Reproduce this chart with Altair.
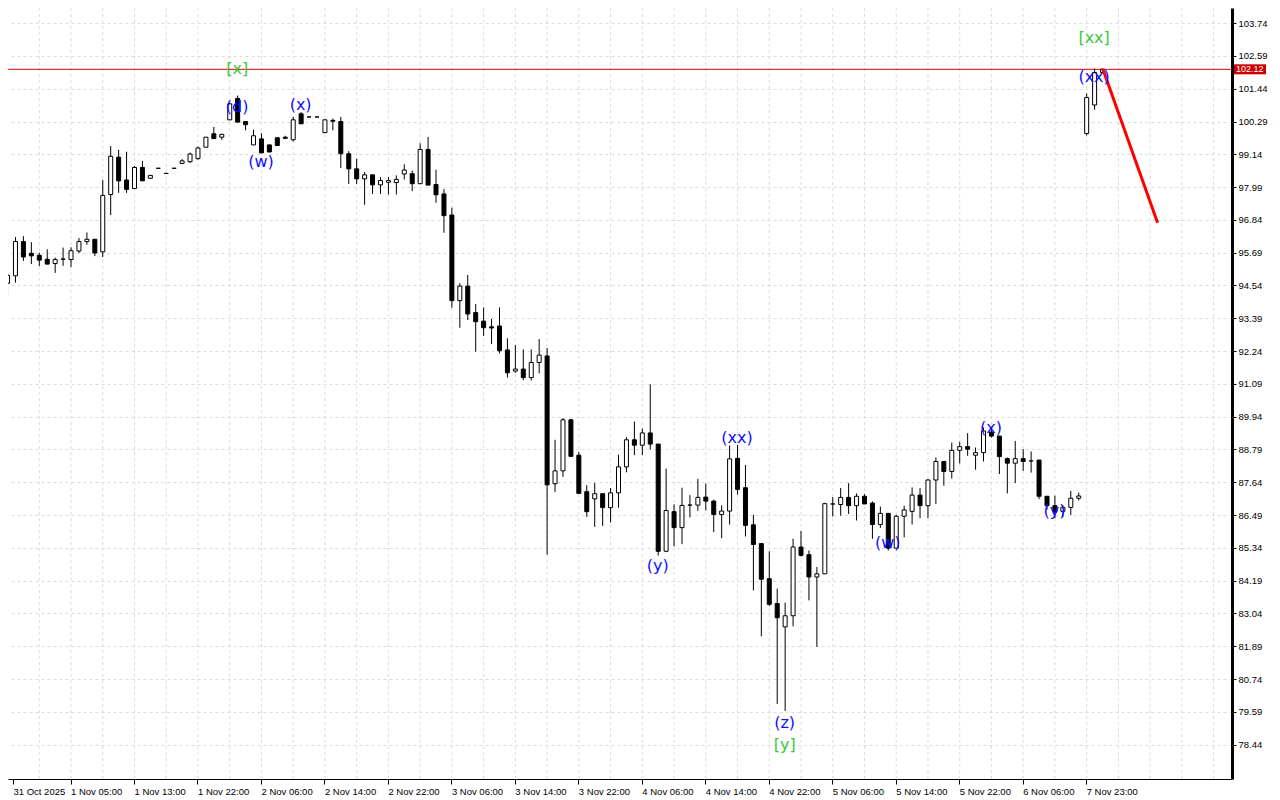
import altair as alt
import pandas as pd

# ---------------- data ----------------
opens = [94.62, 94.88, 96.08, 95.67, 95.60, 95.46, 95.31, 95.46, 95.45, 95.75,
         96.08, 96.16, 95.72, 97.73, 99.04, 98.24, 97.94, 98.68, 98.30, 98.65,
         98.47, 98.65, 98.82, 98.88, 98.99, 99.39, 99.86, 99.74, 100.35, 101.10,
         100.29, 99.47, 99.68, 99.47, 99.72, 99.74, 99.65, 100.56, 100.45, 100.45,
         99.90, 100.33, 100.29, 99.16, 98.63, 98.28, 98.42, 98.07, 98.16, 98.15,
         98.45, 98.46, 98.11, 99.31, 98.08, 97.75, 97.01, 94.01, 94.52, 93.59,
         93.29, 93.09, 93.12, 92.28, 91.54, 91.61, 91.31, 91.84, 92.07, 87.59,
         88.04, 89.83, 88.59, 87.31, 87.06, 87.24, 86.75, 87.27, 88.18, 89.13,
         88.94, 89.37, 88.98, 85.22, 86.61, 86.05, 86.84, 86.84, 87.12, 86.98,
         86.51, 86.63, 88.48, 87.45, 86.15, 85.49, 84.26, 83.39, 82.57, 82.96,
         85.37, 85.10, 84.32, 84.43, 86.88, 86.86, 87.11, 86.82, 87.15, 86.91,
         86.16, 86.55, 85.33, 86.45, 86.62, 87.19, 86.82, 87.72, 88.37, 88.02,
         88.76, 88.89, 88.59, 88.68, 89.40, 89.26, 88.47, 88.31, 88.47, 88.39,
         88.42, 87.15, 86.82, 86.62, 86.76, 87.08, 99.87, 100.87, 102.01]
highs = [95.00, 96.24, 96.27, 96.06, 95.69, 95.81, 95.52, 95.87, 95.88, 96.20,
         96.40, 96.16, 98.24, 99.43, 99.29, 99.23, 98.73, 98.91, 98.42, 98.65,
         98.47, 98.65, 98.97, 99.20, 99.41, 99.74, 100.10, 99.86, 100.95, 101.20,
         100.29, 100.00, 99.88, 99.47, 99.72, 99.79, 100.45, 100.62, 100.45, 100.45,
         100.35, 100.39, 100.45, 99.25, 98.98, 98.52, 98.42, 98.34, 98.34, 98.40,
         98.79, 98.57, 99.53, 99.75, 98.60, 97.92, 97.27, 94.62, 94.91, 93.89,
         93.77, 93.37, 93.77, 92.69, 92.45, 92.30, 92.30, 92.66, 92.35, 89.13,
         89.89, 89.86, 88.70, 87.54, 87.62, 87.24, 87.44, 88.61, 89.22, 89.77,
         89.52, 91.07, 88.98, 88.12, 86.87, 87.45, 87.19, 87.76, 87.59, 87.03,
         86.83, 88.93, 88.95, 88.25, 86.50, 85.51, 85.22, 83.91, 83.42, 85.66,
         85.93, 85.25, 84.67, 86.92, 87.12, 87.44, 87.61, 87.25, 87.23, 86.97,
         86.79, 86.55, 86.50, 86.82, 87.46, 87.44, 87.75, 88.51, 88.39, 89.03,
         89.06, 89.36, 88.86, 89.56, 89.59, 89.26, 88.51, 89.09, 88.80, 88.72,
         88.42, 87.15, 87.17, 86.84, 87.34, 87.28, 101.27, 102.15, 102.15]
lows = [94.20, 94.64, 95.40, 95.29, 95.22, 95.29, 94.98, 95.23, 95.19, 95.68,
        95.97, 95.57, 95.54, 97.01, 97.79, 97.79, 97.94, 98.21, 98.28, 98.65,
        98.47, 98.65, 98.82, 98.84, 98.95, 99.39, 99.69, 99.65, 100.33, 100.25,
        99.98, 99.47, 99.19, 99.22, 99.45, 99.68, 99.59, 100.21, 100.45, 100.45,
        99.90, 99.98, 98.66, 98.10, 98.10, 97.37, 97.75, 97.75, 97.73, 97.73,
        98.26, 97.85, 98.11, 98.06, 97.44, 96.39, 93.76, 93.06, 93.33, 92.22,
        92.77, 92.49, 92.16, 91.31, 91.48, 91.22, 91.21, 91.46, 85.10, 87.30,
        87.83, 88.55, 87.23, 86.43, 86.08, 86.11, 86.23, 86.75, 87.99, 88.59,
        88.59, 88.79, 85.07, 85.22, 85.39, 85.47, 86.41, 86.64, 86.65, 85.89,
        85.68, 86.16, 87.21, 85.74, 83.85, 82.24, 83.30, 79.87, 79.62, 82.59,
        85.04, 83.50, 81.87, 84.43, 86.44, 86.47, 86.53, 86.30, 86.88, 85.66,
        86.04, 85.25, 85.33, 85.71, 86.16, 86.38, 86.38, 86.88, 87.52, 87.77,
        88.30, 88.57, 88.08, 88.37, 89.21, 87.93, 87.25, 87.61, 88.04, 87.98,
        87.05, 86.68, 86.38, 86.41, 86.49, 87.00, 99.80, 100.70, 102.00]
closes = [94.90, 96.08, 95.54, 95.58, 95.43, 95.29, 95.45, 95.47, 95.76, 96.08,
          96.16, 95.68, 97.70, 99.07, 98.21, 97.91, 98.68, 98.21, 98.40, 98.65,
          98.47, 98.65, 98.91, 99.15, 99.36, 99.74, 99.69, 99.84, 100.91, 100.27,
          100.18, 99.79, 99.19, 99.22, 99.45, 99.70, 100.35, 100.21, 100.45, 100.45,
          100.35, 100.30, 99.16, 98.63, 98.28, 98.42, 98.07, 98.22, 98.22, 98.26,
          98.59, 98.11, 99.31, 98.06, 97.72, 96.99, 94.01, 94.52, 93.54, 93.27,
          93.06, 93.05, 92.25, 91.48, 91.61, 91.31, 91.84, 92.10, 87.55, 88.04,
          89.83, 88.55, 87.25, 86.61, 87.24, 86.75, 87.27, 88.18, 89.13, 88.94,
          89.37, 88.98, 85.22, 86.65, 86.05, 86.83, 86.84, 87.11, 86.98, 86.51,
          86.63, 88.46, 87.39, 86.13, 85.46, 84.24, 83.36, 82.89, 82.96, 85.37,
          85.08, 84.32, 84.43, 86.89, 86.88, 87.11, 86.82, 87.15, 86.88, 86.16,
          86.55, 85.33, 86.45, 86.67, 87.19, 86.82, 87.72, 88.37, 88.02, 88.76,
          88.89, 88.80, 88.68, 89.44, 89.26, 88.54, 88.31, 88.47, 88.37, 88.39,
          87.15, 86.82, 86.59, 86.76, 87.08, 87.16, 101.13, 102.01, 102.12]

date_labels = ["31 Oct 2025", "1 Nov 05:00", "1 Nov 13:00", "1 Nov 22:00",
               "2 Nov 06:00", "2 Nov 14:00", "2 Nov 22:00", "3 Nov 06:00",
               "3 Nov 14:00", "3 Nov 22:00", "4 Nov 06:00", "4 Nov 14:00",
               "4 Nov 22:00", "5 Nov 06:00", "5 Nov 14:00", "5 Nov 22:00",
               "6 Nov 06:00", "7 Nov 23:00"]
price_ticks = [78.44, 79.59, 80.74, 81.89, 83.04, 84.19, 85.34, 86.49, 87.64,
               88.79, 89.94, 91.09, 92.24, 93.39, 94.54, 95.69, 96.84, 97.99,
               99.14, 100.29, 101.44, 102.59, 103.74]

wave_text = ["[x]", "(d)", "(w)", "(x)", "(y)", "(xx)", "(z)", "[y]",
             "(w)", "(x)", "(y)", "(xx)", "[xx]"]
wave_bar = [29, 29, 32, 37, 82, 92, 98, 98, 111, 124, 132, 137, 137]
wave_price = [102.13, 100.80, 98.87, 100.87, 84.70, 89.19, 79.20, 78.43,
              85.51, 89.54, 86.63, 101.85, 103.22]
wave_kind = ["major", "minor", "minor", "minor", "minor", "minor", "minor",
             "major", "minor", "minor", "minor", "minor", "major"]

trend_bar = [138.1, 145.0]
trend_price = [102.13, 96.74]
last_price = 102.12

# ---------------- frames ----------------
candles = pd.DataFrame({"i": list(range(len(opens))), "open": opens,
                        "high": highs, "low": lows, "close": closes})
candles["dir"] = ["up" if c >= o else "down" for o, c in zip(opens, closes)]
waves = pd.DataFrame({"i": wave_bar, "p": wave_price, "t": wave_text, "k": wave_kind})
trend = pd.DataFrame({"i": trend_bar, "p": trend_price})
grid_v = pd.DataFrame({"i": list(range(0, 156, 4))})
last = pd.DataFrame({"p": [last_price], "t": [f"{last_price:.2f}"]})

FONT = "Liberation Sans"
W = 1224
xs = alt.Scale(domain=[0.75, 0.75 + W / 8], nice=False, zero=False)
ys = alt.Scale(domain=[77.236, 104.27], nice=False, zero=False)

tick_vals = [0.75] + list(range(8, 137, 8))
arr = "[" + ",".join("'" + s + "'" for s in date_labels) + "]"
x_axis = alt.Axis(values=tick_vals, labelExpr=arr + "[round(datum.value/8)]",
                  grid=False, tickSize=5, tickColor="black", domainColor="black",
                  domainWidth=1, labelAlign="left", labelFont=FONT,
                  labelFontSize=9.5, labelColor="black", labelPadding=2,
                  labelFlush=False, labelOverlap=False, title=None)
y_axis = alt.Axis(orient="right", values=price_ticks, format=".2f", grid=True,
                  gridColor="#dcdcdc", gridDash=[3, 3], gridWidth=1,
                  tickSize=4, tickColor="black", domainColor="black",
                  domainWidth=3, labelFont=FONT, labelFontSize=9.5,
                  labelColor="black", labelPadding=2, labelOverlap=False,
                  labelFlush=False, title=None)


def X(field):
    return alt.X(field, scale=xs, axis=x_axis)


def Y(field):
    return alt.Y(field, scale=ys, axis=y_axis)


vgrid = alt.Chart(grid_v).mark_rule(color="#dcdcdc", strokeDash=[3, 3],
                                    strokeWidth=1, clip=True, xOffset=0.5).encode(
    x=X("i:Q"))

hline = alt.Chart(last).mark_rule(color="#d40000", strokeWidth=1, clip=True).encode(
    y=Y("p:Q"))

wicks = alt.Chart(candles).mark_rule(color="black", strokeWidth=1, clip=True,
                                     xOffset=0.5).encode(
    x=X("i:Q"), y=Y("low:Q"), y2="high:Q")

bodies = alt.Chart(candles).mark_bar(size=4, stroke="black", strokeWidth=1,
                                     clip=True, xOffset=0.5).encode(
    x=X("i:Q"), y=Y("open:Q"), y2="close:Q",
    fill=alt.Fill("dir:N", scale=alt.Scale(domain=["up", "down"],
                                           range=["white", "black"]), legend=None))

trend_line = alt.Chart(trend).mark_line(color="#ff0000", strokeWidth=3, clip=True).encode(
    x=X("i:Q"), y=Y("p:Q"))

labels = alt.Chart(waves).mark_text(font="DejaVu Sans", fontSize=16,
                                    align="center", baseline="middle").encode(
    x=X("i:Q"), y=Y("p:Q"), text="t:N",
    color=alt.Color("k:N", scale=alt.Scale(domain=["major", "minor"],
                                           range=["#3cc83c", "#1010ff"]), legend=None))

tag_box = alt.Chart(last).mark_rect(color="#cc0000", yOffset=-5, y2Offset=5).encode(
    x=alt.value(W + 2), x2=alt.value(W + 34), y=Y("p:Q"), y2="p:Q")
tag_text = alt.Chart(last).mark_text(color="white", font=FONT, fontSize=9,
                                     align="left", baseline="middle").encode(
    x=alt.value(W + 4), y=Y("p:Q"), text="t:N")

chart = alt.layer(vgrid, hline, wicks, bodies, trend_line, labels, tag_box, tag_text).properties(
    width=W, height=771,
    padding={"left": 0, "top": 0, "right": 0, "bottom": 0},
    background="white",
).configure_view(strokeWidth=0)

chart.save("out.html", embed_options={"renderer": "svg", "actions": False})
